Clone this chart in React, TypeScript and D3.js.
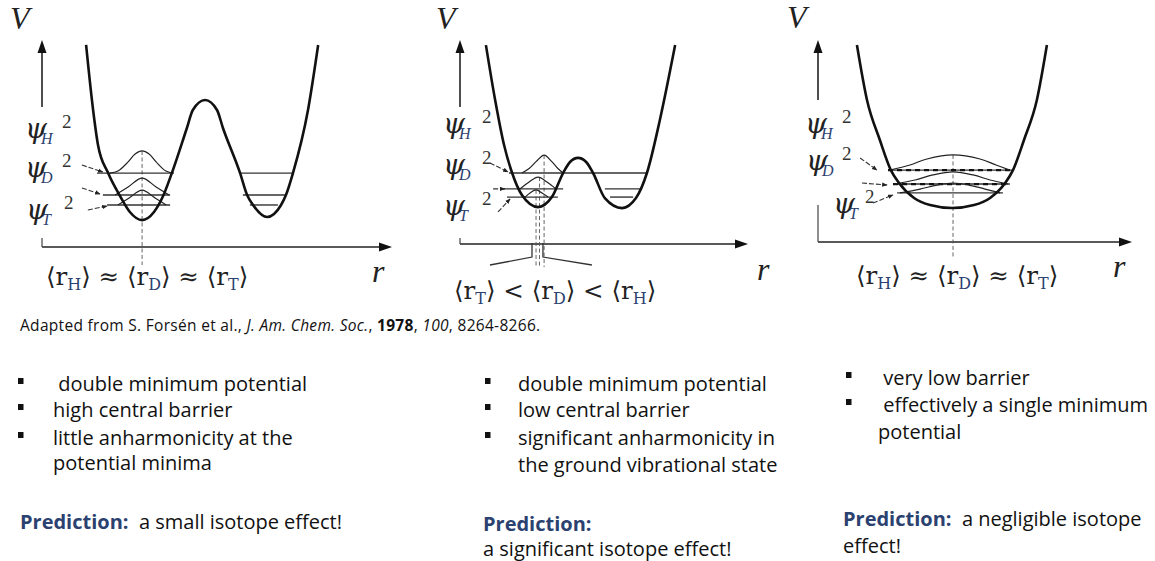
import React from 'react';
import * as d3 from 'd3';

type Pt = [number, number];

// ================= DATA (r and V in arbitrary units, 0..10 per panel) =================
// Panel 1 : double minimum, high central barrier
const p1PotentialR = [1.26, 1.46, 1.60, 1.89, 2.23, 2.51, 2.86, 3.20, 3.46, 3.71, 4.14, 4.31, 4.66, 5.00, 5.17, 5.66, 5.86, 6.03, 6.43, 6.83, 6.97, 7.17, 7.60, 7.89];
const p1PotentialV = [9.76, 6.62, 4.93, 3.57, 2.46, 1.69, 1.30, 1.69, 2.46, 3.57, 5.75, 6.62, 7.10, 6.62, 5.75, 3.57, 2.51, 2.03, 1.45, 2.03, 2.51, 3.57, 6.62, 9.76];
const p1LevelV = [3.57, 2.51, 2.03, 3.57, 2.51, 2.03];
const p1LevelFrom = [1.57, 1.74, 1.86, 5.66, 5.74, 5.94];
const p1LevelTo = [3.71, 3.66, 3.66, 7.17, 7.00, 6.74];
const p1WaveHR = [1.94, 2.17, 2.46, 2.66, 2.86, 3.06, 3.26, 3.54, 3.77];
const p1WaveHV = [3.57, 3.67, 4.11, 4.49, 4.64, 4.49, 4.11, 3.67, 3.57];
const p1WaveDR = [2.09, 2.46, 2.86, 3.26, 3.63];
const p1WaveDV = [2.51, 2.90, 3.33, 2.90, 2.51];
const p1WaveTR = [2.17, 2.49, 2.86, 3.23, 3.55];
const p1WaveTV = [2.03, 2.37, 2.75, 2.37, 2.03];
const p1MeanR = [2.86];
const p1MeanTop = [4.64];
const p1ArrowFromR = [1.14, 1.14, 1.31];
const p1ArrowFromV = [3.96, 2.85, 1.79];
const p1ArrowToR = [1.74, 1.66, 1.86];
const p1ArrowToV = [3.62, 2.56, 1.98];

// Panel 2 : double minimum, low central barrier
const p2PotentialR = [0.90, 1.22, 1.53, 1.81, 2.15, 2.71, 3.19, 3.58, 3.82, 4.10, 4.38, 4.62, 5.03, 5.63, 6.11, 6.49, 6.94, 7.47];
const p2PotentialV = [9.75, 7.06, 4.85, 3.48, 2.40, 1.81, 2.30, 3.48, 4.02, 4.22, 4.02, 3.48, 2.25, 1.76, 2.25, 3.48, 6.08, 9.75];
const p2LevelV = [3.48, 2.70, 2.30, 2.70, 2.30];
const p2LevelFrom = [1.70, 1.46, 1.63, 5.03, 5.21];
const p2LevelTo = [6.46, 3.58, 3.40, 6.25, 6.01];
const p2WaveHR = [2.15, 2.40, 2.65, 2.92, 3.18, 3.40, 3.58];
const p2WaveHV = [3.48, 3.70, 4.05, 4.36, 4.05, 3.70, 3.48];
const p2WaveDR = [2.08, 2.40, 2.71, 3.02, 3.33];
const p2WaveDV = [2.70, 3.04, 3.28, 3.04, 2.70];
const p2WaveTR = [2.26, 2.43, 2.64, 2.85, 3.06];
const p2WaveTV = [2.30, 2.50, 2.65, 2.50, 2.30];
const p2MeanR = [2.64, 2.76, 2.92];
const p2MeanTop = [2.65, 3.28, 4.36];
const p2ArrowFromR = [1.04, 1.15, 1.32];
const p2ArrowFromV = [3.97, 2.70, 1.57];
const p2ArrowToR = [1.67, 1.56, 1.74];
const p2ArrowToV = [3.53, 2.70, 2.21];
const p2BracketLeftR = [1.04, 2.50, 2.50];
const p2BracketRightR = [2.88, 2.88, 4.58];
const p2BracketLeftV = [-1.03, -0.64, 0.05];
const p2BracketRightV = [0.05, -0.64, -1.03];

// Panel 3 : very low barrier, effectively single minimum
const p3PotentialR = [1.24, 1.56, 1.97, 2.32, 2.58, 3.06, 3.57, 4.27, 4.97, 5.48, 5.96, 6.21, 6.56, 6.97, 7.29];
const p3PotentialV = [9.75, 7.03, 5.05, 3.56, 2.92, 2.18, 1.83, 1.68, 1.83, 2.18, 2.92, 3.56, 5.05, 7.03, 9.75];
const p3LevelV = [3.56, 2.87, 2.43];
const p3LevelFrom = [2.23, 2.39, 2.52];
const p3LevelTo = [6.21, 6.11, 5.89];
const p3LevelDashed = [true, true, false];
const p3WaveHR = [2.29, 2.93, 3.47, 4.30, 5.16, 5.67, 6.11];
const p3WaveHV = [3.56, 3.81, 4.11, 4.31, 4.11, 3.81, 3.56];
const p3WaveDR = [2.45, 3.09, 3.66, 4.30, 4.94, 5.48, 6.05];
const p3WaveDV = [2.87, 3.07, 3.32, 3.47, 3.32, 3.07, 2.87];
const p3WaveTR = [2.61, 3.25, 3.79, 4.30, 4.81, 5.32, 5.80];
const p3WaveTV = [2.43, 2.62, 2.82, 2.92, 2.82, 2.62, 2.43];
const p3MeanR = [4.30];
const p3MeanTop = [4.31];
const p3ArrowFromR = [1.34, 1.40, 1.75];
const p3ArrowFromV = [4.16, 2.92, 1.93];
const p3ArrowToR = [1.88, 2.20, 2.39];
const p3ArrowToV = [3.56, 2.82, 2.33];

// Text content
const isotopes = ['H', 'D', 'T'];
const p1Relation = [['H', '≈'], ['D', '≈'], ['T', '']];
const p2Relation = [['T', '<'], ['D', '<'], ['H', '']];
const p3Relation = [['H', '≈'], ['D', '≈'], ['T', '']];
const col1Lines = [' double minimum potential', 'high central barrier', 'little anharmonicity at the', 'potential minima'];
const col1Bullets = [true, true, true, false];
const col2Lines = ['double minimum potential', 'low central barrier', 'significant anharmonicity in', 'the ground vibrational state'];
const col2Bullets = [true, true, true, false];
const col3Lines = [' very low barrier', ' effectively a single minimum', 'potential'];
const col3Bullets = [true, true, false];

// ================= helpers =================
const zip = (a: number[], b: number[]): Pt[] => a.map((v, i) => [v, b[i]]);
const BLUE = '#2b4170';
const MATH = "'Liberation Serif', 'DejaVu Serif', serif";
const GREEK = "'DejaVu Serif', serif";
const SANS = "'Open Sans', Lato, sans-serif";

interface PanelCfg {
  xRange: [number, number];
  yRange: [number, number];
  pot: Pt[];
  levels: { v: number; from: number; to: number; dashed?: boolean }[];
  waves: Pt[][];
  means: { r: number; top: number }[];
  meanBottom: number;
  arrows: { from: Pt; to: Pt }[];
  yArrowStart: number;
  cornerTop: number;
  brackets?: Pt[][];
}

const mkLevels = (v: number[], f: number[], t: number[], d?: boolean[]) =>
  v.map((vv, i) => ({ v: vv, from: f[i], to: t[i], dashed: d ? d[i] : false }));
const mkMeans = (r: number[], top: number[]) => r.map((rr, i) => ({ r: rr, top: top[i] }));
const mkArrows = (fr: number[], fv: number[], tr: number[], tv: number[]) =>
  fr.map((x, i) => ({ from: [x, fv[i]] as Pt, to: [tr[i], tv[i]] as Pt }));

const panels: PanelCfg[] = [
  {
    xRange: [42, 392], yRange: [247, 40],
    pot: zip(p1PotentialR, p1PotentialV),
    levels: mkLevels(p1LevelV, p1LevelFrom, p1LevelTo),
    waves: [zip(p1WaveHR, p1WaveHV), zip(p1WaveDR, p1WaveDV), zip(p1WaveTR, p1WaveTV)],
    means: mkMeans(p1MeanR, p1MeanTop), meanBottom: -0.87,
    arrows: mkArrows(p1ArrowFromR, p1ArrowFromV, p1ArrowToR, p1ArrowToV),
    yArrowStart: 6.76, cornerTop: 0.43,
  },
  {
    xRange: [460, 748], yRange: [244, 40],
    pot: zip(p2PotentialR, p2PotentialV),
    levels: mkLevels(p2LevelV, p2LevelFrom, p2LevelTo),
    waves: [zip(p2WaveHR, p2WaveHV), zip(p2WaveDR, p2WaveDV), zip(p2WaveTR, p2WaveTV)],
    means: mkMeans(p2MeanR, p2MeanTop), meanBottom: -1.13,
    arrows: mkArrows(p2ArrowFromR, p2ArrowFromV, p2ArrowToR, p2ArrowToV),
    yArrowStart: 6.72, cornerTop: 0.29,
    brackets: [zip(p2BracketLeftR, p2BracketLeftV), zip(p2BracketRightR, p2BracketRightV)],
  },
  {
    xRange: [818, 1132], yRange: [242, 40],
    pot: zip(p3PotentialR, p3PotentialV),
    levels: mkLevels(p3LevelV, p3LevelFrom, p3LevelTo, p3LevelDashed),
    waves: [zip(p3WaveHR, p3WaveHV), zip(p3WaveDR, p3WaveDV), zip(p3WaveTR, p3WaveTV)],
    means: mkMeans(p3MeanR, p3MeanTop), meanBottom: -0.79,
    arrows: mkArrows(p3ArrowFromR, p3ArrowFromV, p3ArrowToR, p3ArrowToV),
    yArrowStart: 7.03, cornerTop: 1.83,
  },
];

// label layout per panel
const psiLayout = [
  { x: [25, 25, 26], y: [138, 177, 219], sup: [62, 62, 64] },
  { x: [443, 443, 443], y: [133, 174, 215], sup: [482, 482, 482] },
  { x: [805, 806, 833], y: [133, 170, 213], sup: [842, 842, 865] },
];
const vLabel = [[10, 29], [436, 29], [787, 28]];
const rLabel = [[372, 282], [757, 280], [1113, 277]];
const relLayout = [[46, 285], [454, 299], [856, 284]];
const relations = [p1Relation, p2Relation, p3Relation];

function Panel({ cfg }: { cfg: PanelCfg }) {
  const xs = d3.scaleLinear().domain([0, 10]).range(cfg.xRange);
  const ys = d3.scaleLinear().domain([0, 10]).range(cfg.yRange);
  const smooth = d3.line<Pt>().x(d => xs(d[0])).y(d => ys(d[1])).curve(d3.curveMonotoneX);
  const wave = d3.line<Pt>().x(d => xs(d[0])).y(d => ys(d[1])).curve(d3.curveCatmullRom.alpha(0.5));
  const poly = d3.line<Pt>().x(d => xs(d[0])).y(d => ys(d[1]));
  const x0 = xs(0), x1 = xs(10), y0 = ys(0), y1 = ys(10);
  return (
    <g>
      {/* axes */}
      <line x1={x0} x2={x1 - 8} y1={y0} y2={y0} stroke="#222" strokeWidth={1.6} />
      <path d={`M${x1},${y0} L${x1 - 13},${y0 - 4.5} L${x1 - 13},${y0 + 4.5} Z`} fill="#111" />
      <line x1={x0} x2={x0} y1={y0} y2={ys(cfg.cornerTop)} stroke="#444" strokeWidth={1.2} />
      <line x1={x0} x2={x0} y1={ys(cfg.yArrowStart)} y2={y1 + 8} stroke="#222" strokeWidth={1.6} />
      <path d={`M${x0},${y1} L${x0 - 4.5},${y1 + 13} L${x0 + 4.5},${y1 + 13} Z`} fill="#111" />
      {/* mean position dashed lines */}
      {cfg.means.map((m, i) => (
        <line key={'m' + i} x1={xs(m.r)} x2={xs(m.r)} y1={ys(m.top)} y2={ys(cfg.meanBottom)}
          stroke="#555" strokeWidth={0.9} strokeDasharray="4 2.5" />
      ))}
      {cfg.brackets && cfg.brackets.map((b, i) => (
        <path key={'b' + i} d={poly(b) || ''} fill="none" stroke="#333" strokeWidth={1.3} />
      ))}
      {/* energy levels */}
      {cfg.levels.map((l, i) => (
        <g key={'l' + i}>
          <line x1={xs(l.from)} x2={xs(l.to)} y1={ys(l.v)} y2={ys(l.v)} stroke="#333" strokeWidth={1.4} />
          {l.dashed && (
            <line x1={xs(l.from)} x2={xs(l.to)} y1={ys(l.v)} y2={ys(l.v)} stroke="#111" strokeWidth={2.2} strokeDasharray="5 4" />
          )}
        </g>
      ))}
      {/* wavefunctions */}
      {cfg.waves.map((w, i) => (
        <path key={'w' + i} d={wave(w) || ''} fill="none" stroke="#222" strokeWidth={1.2} />
      ))}
      {/* potential */}
      <path d={smooth(cfg.pot) || ''} fill="none" stroke="#111" strokeWidth={2.6} strokeLinejoin="round" />
      {/* label arrows */}
      {cfg.arrows.map((a, i) => (
        <line key={'a' + i} x1={xs(a.from[0])} y1={ys(a.from[1])} x2={xs(a.to[0])} y2={ys(a.to[1])}
          stroke="#333" strokeWidth={1.1} strokeDasharray="5 2" markerEnd="url(#tinyArrow)" />
      ))}
    </g>
  );
}

function PsiLabel({ x, y, sup, iso }: { x: number; y: number; sup: number; iso: string }) {
  return (
    <text x={x} y={y} fontFamily={GREEK} fontSize={28} fontStyle="italic" fill="#222">
      ψ
      <tspan x={x + 16} y={y + 6} fontFamily={MATH} fontSize={16} fill={BLUE}>{iso}</tspan>
      <tspan x={sup} y={y - 10} fontFamily={MATH} fontSize={19} fontStyle="normal" fill="#333">2</tspan>
    </text>
  );
}

function Relation({ x, y, items }: { x: number; y: number; items: string[][] }) {
  return (
    <text x={x} y={y} fontFamily={GREEK} fontSize={24.5} fill="#222" style={{ whiteSpace: 'pre' }}>
      {items.map(([iso, op], i) => (
        <React.Fragment key={i}>
          <tspan>{'⟨r'}</tspan>
          <tspan dy={5} fontSize={16} fill={BLUE}>{iso}</tspan>
          <tspan dy={-5}>{'⟩'}</tspan>
          {op && <tspan>{' ' + op + ' '}</tspan>}
        </React.Fragment>
      ))}
    </text>
  );
}

function BulletColumn({ x, bx, ys, lines, bullets, size }: { x: number; bx: number; ys: number[]; lines: string[]; bullets: boolean[]; size: number }) {
  return (
    <g fontFamily={SANS} fontSize={size} fill="#111">
      {lines.map((t, i) => (
        <g key={i}>
          {bullets[i] && <rect x={bx} y={ys[i] - 13} width={5.5} height={6} fill="#111" />}
          <text x={x} y={ys[i]} style={{ whiteSpace: 'pre' }}>{t}</text>
        </g>
      ))}
    </g>
  );
}

export default function App() {
  return (
    <svg width={1155} height={561} viewBox="0 0 1155 561"
      style={{ position: 'absolute', left: 0, top: 0, background: '#fff' }}>
      <defs>
        <marker id="tinyArrow" viewBox="0 0 10 10" refX="9" refY="5" markerWidth="5" markerHeight="5" orient="auto">
          <path d="M0,1 L10,5 L0,9 Z" fill="#222" />
        </marker>
      </defs>
      <rect width={1155} height={561} fill="#fff" />
      {panels.map((p, i) => <Panel key={i} cfg={p} />)}
      {psiLayout.map((pl, pi) => (
        <g key={'psi' + pi}>
          {isotopes.map((iso, k) => (
            <PsiLabel key={iso} x={pl.x[k]} y={pl.y[k]} sup={pl.sup[k]} iso={iso} />
          ))}
        </g>
      ))}
      {vLabel.map(([x, y], i) => (
        <text key={'v' + i} x={x} y={y} fontFamily={MATH} fontStyle="italic" fontSize={32} fill="#222">V</text>
      ))}
      {rLabel.map(([x, y], i) => (
        <text key={'r' + i} x={x} y={y} fontFamily={MATH} fontStyle="italic" fontSize={32} fill="#222">r</text>
      ))}
      {relLayout.map(([x, y], i) => (
        <Relation key={'rel' + i} x={x} y={y} items={relations[i]} />
      ))}

      {/* citation */}
      <text x={20} y={331} fontFamily={SANS} fontSize={15.5} letterSpacing={0.3} fill="#111">
        Adapted from S. Forsén et al., <tspan fontStyle="italic">J. Am. Chem. Soc.</tspan>, <tspan fontWeight="bold">1978</tspan>, <tspan fontStyle="italic">100</tspan>, 8264-8266.
      </text>

      {/* bullet lists */}
      <BulletColumn x={53} bx={18} ys={[391, 417, 445, 470]} lines={col1Lines} bullets={col1Bullets} size={20} />
      <BulletColumn x={518} bx={485} ys={[391, 417, 445, 472]} lines={col2Lines} bullets={col2Bullets} size={20} />
      <BulletColumn x={878} bx={846} ys={[385, 412, 439]} lines={col3Lines} bullets={col3Bullets} size={20} />

      {/* predictions */}
      <g fontFamily={SANS} fontSize={20}>
        <text x={20} y={529} style={{ whiteSpace: 'pre' }}>
          <tspan fill={BLUE} fontWeight="bold">Prediction:</tspan><tspan fill="#111">{'  a small isotope effect!'}</tspan>
        </text>
        <text x={483} y={531} fill={BLUE} fontWeight="bold">Prediction:</text>
        <text x={483} y={556} fill="#111">a significant isotope effect!</text>
        <text x={843} y={526} style={{ whiteSpace: 'pre' }}>
          <tspan fill={BLUE} fontWeight="bold">Prediction:</tspan><tspan fill="#111">{'  a negligible isotope'}</tspan>
        </text>
        <text x={843} y={553} fill="#111">effect!</text>
      </g>
    </svg>
  );
}
